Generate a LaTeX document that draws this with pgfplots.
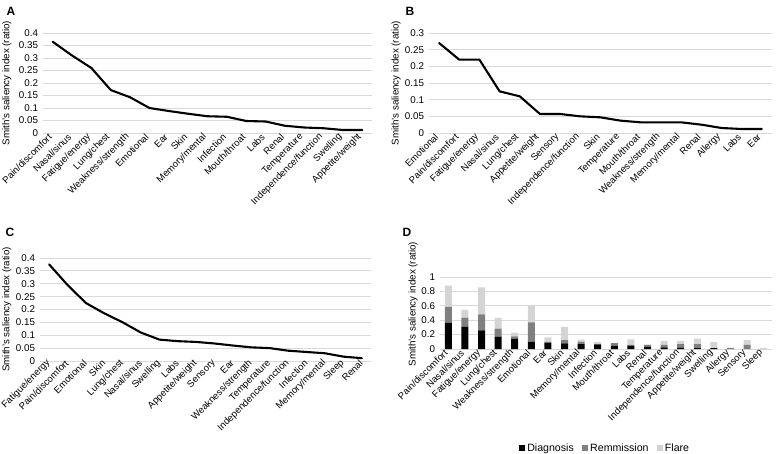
\documentclass[border=0pt]{standalone}
\usepackage{fontspec}
\setmainfont{Liberation Sans}
\usepackage{pgfplots}
\pgfplotsset{compat=1.18}
\definecolor{gridc}{HTML}{D9D9D9}
\definecolor{remc}{HTML}{7F7F7F}
\definecolor{flarec}{HTML}{D4D4D4}

\pgfplotsset{
  panel/.style={
    scale only axis,
    axis line style={draw=none},
    major tick length=0pt,
    ymajorgrids,
    grid style={draw=gridc, line width=0.8pt},
    tick label style={font=\fontsize{9.5}{11}\selectfont},
    /pgf/number format/assume math mode=true,
    /pgf/number format/fixed,
    /pgf/number format/precision=2,
    scaled y ticks=false,
    ymin=0,
    clip=false,
    xticklabel style={rotate=45, anchor=east},
    yticklabel style={xshift=-1.5pt, font=\fontsize{9.8}{11}\selectfont},
    ylabel={Smith's saliency index (ratio)},
    ylabel style={font=\fontsize{9.8}{11}\selectfont, anchor=center},
    xtick={0,...,19},
  },
  sline/.style={black, line width=2.1pt, line join=round, line cap=round, mark=none},
}

\begin{document}
\begin{tikzpicture}
\useasboundingbox (0,0) rectangle (777pt,-453pt);

% ---------- A ----------
\node[font=\bfseries\fontsize{12}{14}\selectfont] at (11pt,-11pt) {A};
\begin{axis}[panel, at={(43pt,-133pt)}, anchor=south west,
  width=329pt, height=100pt, xmin=-0.5, xmax=16.5, ymax=0.4,
  ytick={0,0.05,0.1,0.15,0.2,0.25,0.3,0.35,0.4},
  ylabel style={at={(axis description cs:-0.11,0.5)}},
  xticklabels={Pain/discomfort,Nasal/sinus,Fatigue/energy,Lung/chest,Weakness/strength,Emotional,Ear,Skin,Memory/mental,Infection,Mouth/throat,Labs,Renal,Temperature,Independence/function,Swelling,Appetite/weight}]
\addplot[sline] coordinates {
(0,0.365) (1,0.31) (2,0.26) (3,0.172) (4,0.143) (5,0.100) (6,0.088) (7,0.077) (8,0.067) (9,0.065) (10,0.048) (11,0.046) (12,0.029) (13,0.022) (14,0.019) (15,0.012) (16,0.012)};
\end{axis}

% ---------- B ----------
\node[font=\bfseries\fontsize{12}{14}\selectfont] at (410pt,-11pt) {B};
\begin{axis}[panel, at={(429pt,-133pt)}, anchor=south west,
  width=343pt, height=100pt, xmin=-0.5, xmax=16.5, ymax=0.3,
  ytick={0,0.05,0.1,0.15,0.2,0.25,0.3},
  ylabel style={at={(axis description cs:-0.096,0.5)}},
  xticklabels={Emotional,Pain/discomfort,Fatigue/energy,Nasal/sinus,Lung/chest,Appetite/weight,Sensory,Independence/function,Skin,Temperature,Mouth/throat,Weakness/strength,Memory/mental,Renal,Allergy,Labs,Ear}]
\addplot[sline] coordinates {
(0,0.27) (1,0.22) (2,0.22) (3,0.125) (4,0.11) (5,0.057) (6,0.057) (7,0.050) (8,0.047) (9,0.037) (10,0.032) (11,0.032) (12,0.032) (13,0.025) (14,0.015) (15,0.012) (16,0.012)};
\end{axis}

% ---------- C ----------
\node[font=\bfseries\fontsize{12}{14}\selectfont] at (10pt,-232pt) {C};
\begin{axis}[panel, at={(40pt,-361pt)}, anchor=south west,
  width=331pt, height=103pt, xmin=-0.5, xmax=17.5, ymax=0.4,
  ytick={0,0.05,0.1,0.15,0.2,0.25,0.3,0.35,0.4},
  ylabel style={at={(axis description cs:-0.1,0.5)}},
  xticklabel style={xshift=2.5pt},
  xticklabels={Fatigue/energy,Pain/discomfort,Emotional,Skin,Lung/chest,Nasal/sinus,Swelling,Labs,Appetite/weight,Sensory,Ear,Weakness/strength,Temperature,Independence/function,Infection,Memory/mental,Sleep,Renal}]
\addplot[sline] coordinates {
(0,0.375) (1,0.295) (2,0.225) (3,0.185) (4,0.150) (5,0.110) (6,0.083) (7,0.077) (8,0.074) (9,0.068) (10,0.060) (11,0.053) (12,0.050) (13,0.040) (14,0.035) (15,0.030) (16,0.017) (17,0.011)};
\end{axis}

% ---------- D ----------
\node[font=\bfseries\fontsize{12}{14}\selectfont] at (407pt,-232pt) {D};
\begin{axis}[panel, at={(440pt,-349pt)}, anchor=south west,
  width=332pt, height=72pt, xmin=-0.5, xmax=19.5, ymax=1,
  ytick={0,0.2,0.4,0.6,0.8,1},
  ylabel style={at={(axis description cs:-0.081,0.625)}},
  ybar stacked, bar width=7pt,
  legend image code/.code={\fill[#1,draw=none] (0pt,-3.2pt) rectangle (6.4pt,3.2pt);},
  legend style={draw=none, legend columns=3, font=\fontsize{10.6}{12}\selectfont,
    at={(axis description cs:0.497,-1.375)}, anchor=center,
    /tikz/every even column/.append style={column sep=6pt},
    /tikz/every odd column/.append style={column sep=0pt}},
  legend cell align=left,
  xticklabels={Pain/discomfort,Nasal/sinus,Fatigue/energy,Lung/chest,Weakness/strength,Emotional,Ear,Skin,Memory/mental,Infection,Mouth/throat,Labs,Renal,Temperature,Independence/function,Appetite/weight,Swelling,Allergy,Sensory,Sleep}]
\addplot[fill=black, draw=none] coordinates {
(0,0.365) (1,0.31) (2,0.26) (3,0.172) (4,0.143) (5,0.100) (6,0.088) (7,0.077) (8,0.067) (9,0.065) (10,0.048) (11,0.046) (12,0.029) (13,0.022) (14,0.019) (15,0.012) (16,0.012) (17,0) (18,0) (19,0)};
\addplot[fill=remc, draw=none] coordinates {
(0,0.22) (1,0.125) (2,0.22) (3,0.11) (4,0.032) (5,0.27) (6,0.012) (7,0.047) (8,0.032) (9,0) (10,0.032) (11,0.012) (12,0.025) (13,0.037) (14,0.050) (15,0.057) (16,0) (17,0.015) (18,0.057) (19,0)};
\addplot[fill=flarec, draw=none] coordinates {
(0,0.295) (1,0.110) (2,0.375) (3,0.150) (4,0.053) (5,0.225) (6,0.060) (7,0.185) (8,0.030) (9,0.035) (10,0) (11,0.077) (12,0.011) (13,0.050) (14,0.040) (15,0.074) (16,0.083) (17,0) (18,0.068) (19,0.017)};
\legend{Diagnosis,Remmission,Flare}
\end{axis}
\end{tikzpicture}
\end{document}
